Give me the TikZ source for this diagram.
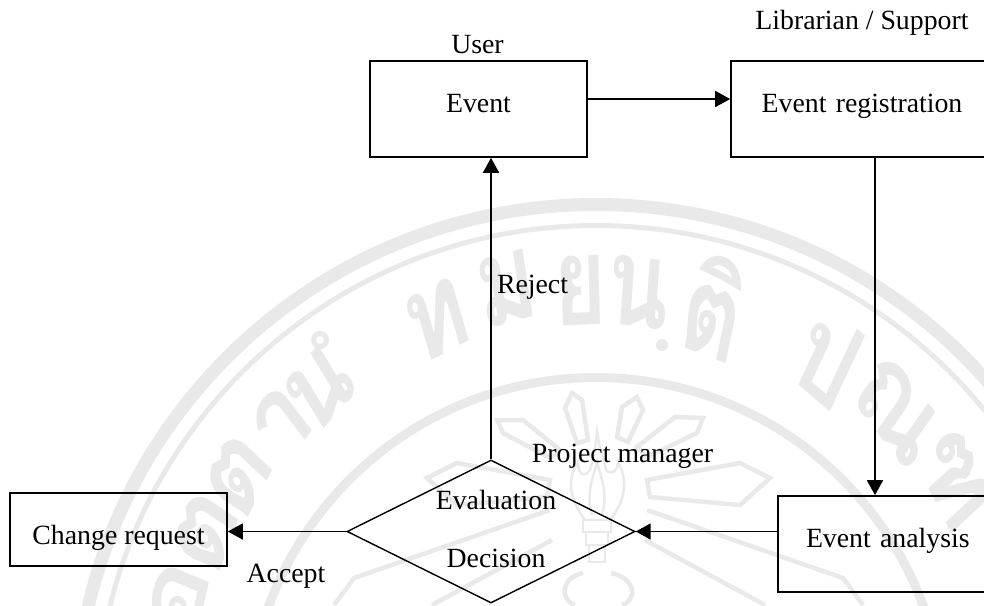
\documentclass[tikz,border=0pt]{standalone}
\usepackage{fontspec}
\setmainfont{Liberation Serif}
\newfontfamily\wmfont[Script=Thai]{Loma}
\usetikzlibrary{arrows.meta,shapes.geometric}
\definecolor{wmgray}{HTML}{E9E9E9}
\tikzset{
  boxnode/.style={draw=black,line width=1.6pt,rectangle,inner sep=0pt,font=\fontsize{27.8}{30}\selectfont},
  decnode/.style={draw=black,line width=1.4pt,diamond,inner sep=0pt,aspect=2,minimum width=288pt,minimum height=143pt},
  lbl/.style={anchor=base,inner sep=0pt,font=\fontsize{27.8}{30}\selectfont},
  conn/.style={draw=black,line width=1.6pt,-{Triangle[length=15pt,width=16pt]}},
  ring/.style={draw=wmgray},
  wmline/.style={draw=wmgray,line width=4.5pt,line join=miter},
  wmthin/.style={draw=wmgray,line width=2.5pt},
  wmglyph/.style={text=wmgray,inner sep=0pt,transform shape,xscale=.85,yscale=1.15,font=\wmfont\bfseries\fontsize{108}{110}\selectfont}
}
\begin{document}
\begin{tikzpicture}[x=1pt,y=-1pt]
\useasboundingbox (0,0) rectangle (984,605);
\clip (0,0) rectangle (984,605);
% watermark seal
\coordinate (sc) at (596,726);
\draw[ring,line width=13pt] (sc) circle (521.5pt);
\draw[ring,line width=5pt] (sc) circle (500.5pt);
\draw[ring,line width=9pt] (sc) circle (348.5pt);
\foreach \g/\t/\r [count=\i] in {อ/-72.8/436,ต/-63.5/436,ต/-55/436,า/-46/436,น/-39.4/436,ท/-21.4/436,ม/-11.5/446,ย/-2.1/436,น/5.5/436,ติ/15.8/436,ป/32.3/436,ณ/43.6/436,ฑ/55.6/436}
  \node[wmglyph,rotate=-\t] (wm\i) at ({596+\r*sin(\t)},{726-\r*cos(\t)}) {\g};
\draw[wmgray,line width=5pt] (320,340) circle (6.5pt);
\fill[wmgray] (662,345) circle (6pt);
% rays
\draw[wmline] (565,408)--(572,393)--(582,400)--(588,440)--(577,443)--cycle;
\draw[wmline] (637,397)--(643,410)--(628,442)--(617,437)--(622,407)--cycle;
\draw[wmline] (497,420)--(523,420)--(560,450)--(550,458)--(503,433)--cycle;
\draw[wmline] (703,418)--(675,417)--(637,447)--(647,457)--(697,433)--cycle;
\draw[wmline] (647,480)--(740,463)--(770,478)--(740,505)--(650,497)--cycle;
\draw[wmline] (550,480)--(457,463)--(427,478)--(457,505)--(547,497)--cycle;
\draw[wmline] (647,510)--(843,578)--(863,605);
\draw[wmline] (645,540)--(765,605);
\draw[wmline] (550,510)--(354,578)--(334,605);
\draw[wmline] (552,540)--(432,605);
% torch
\draw[wmthin] (585,520) .. controls (570,500) and (566,480) .. (578,462) .. controls (578,475) and (584,478) .. (590,470) .. controls (594,455) and (596,445) .. (597,432) .. controls (600,450) and (604,460) .. (606,470) .. controls (612,476) and (618,470) .. (618,462) .. controls (628,480) and (626,500) .. (610,520);
\draw[wmthin] (592,515) .. controls (586,495) and (592,480) .. (597,462) .. controls (602,480) and (608,495) .. (602,515);
\draw[wmthin] (583,520) rectangle (611,532);
\draw[wmthin] (586,532) rectangle (608,545);
\draw[wmthin] (589,545) rectangle (605,562);
\draw[wmline] (583,573) .. controls (560,578) and (560,600) .. (575,605);
\draw[wmline] (611,573) .. controls (636,578) and (638,600) .. (622,605);
% diagram
\node[boxnode,minimum width=217pt,minimum height=96pt,text height=26pt,text depth=20pt] (ev) at (478.5,109) {Event};
\node[boxnode,minimum width=262pt,minimum height=96pt,text height=26pt,text depth=20pt,text width=262pt,align=center] (reg) at (862,109) {Event registration};
\node[boxnode,minimum width=222pt,minimum height=96pt,text height=26pt,text depth=20pt,text width=222pt,align=left] (ana) at (889,544) {\hspace*{28pt}Event analysis};
\node[boxnode,minimum width=217pt,minimum height=73pt,text height=39pt,text depth=10pt] (chg) at (118.5,529.5) {Change request};
\node[decnode] (dec) at (491,531.5) {};
\node[lbl] (usr) at (477.5,53) {User};
\node[lbl] (lib) at (862,29) {Librarian / Support};
\node[lbl] (rej) at (532.5,293) {Reject};
\node[lbl] (pm) at (622.5,462) {Project manager};
\node[lbl] (eva) at (496,509) {Evaluation};
\node[lbl] (dcs) at (496,567) {Decision};
\node[lbl] (acc) at (286,582) {Accept};
\coordinate (rowa) at (0,99);
\coordinate (cola) at (875,0);
\draw[conn] (ev.east |- rowa) -- (reg.west |- rowa);
\draw[conn] (cola |- reg.south) -- (cola |- ana.north);
\draw[conn] (ana.west |- dec.east) -- (dec.east);
\draw[conn] (dec.west) -- (chg.east |- dec.west);
\draw[conn] (dec.north) -- (dec.north |- ev.south);
\end{tikzpicture}
\end{document}
